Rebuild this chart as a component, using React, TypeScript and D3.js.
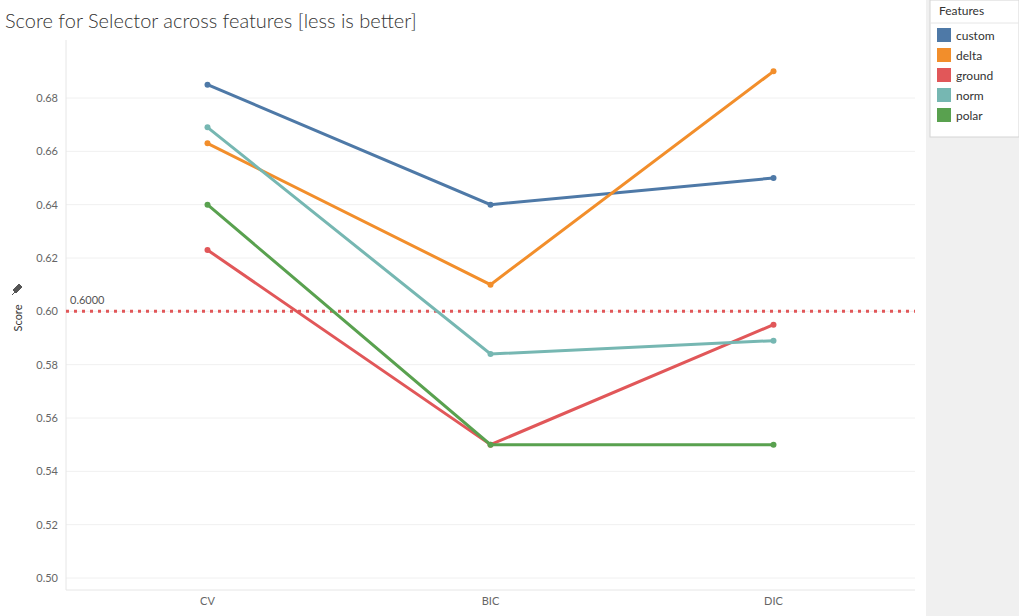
import React from "react";
import * as d3 from "d3";

const categories = ["CV", "BIC", "DIC"];
const features = ["custom", "delta", "ground", "norm", "polar"];
const colors = ["#4e79a7", "#f28e2b", "#e15759", "#76b7b2", "#59a14f"];
const custom = [0.685, 0.64, 0.65];
const delta = [0.663, 0.61, 0.69];
const ground = [0.623, 0.55, 0.595];
const norm = [0.669, 0.584, 0.589];
const polar = [0.64, 0.55, 0.55];
const series = [custom, delta, ground, norm, polar];
const yTicks = [0.5, 0.52, 0.54, 0.56, 0.58, 0.6, 0.62, 0.64, 0.66, 0.68];
const refValue = 0.6;

export default function App() {
  const W = 1019, H = 616;
  const x = d3.scaleBand().domain(categories).range([66, 915]);
  const y = d3.scaleLinear().domain([0.5, 0.68]).range([578, 98]);
  const line = d3.line<number>().x((_, i) => x(categories[i])! + x.bandwidth() / 2).y(d => y(d));
  const font = "Lato, 'Open Sans', sans-serif";
  return (
    <svg width={W} height={H} style={{ position: "absolute", left: 0, top: 0, fontFamily: font }}>
      <rect width={W} height={H} fill="#fff" />
      <text x={5} y={28} fontSize={20} fill="#333" fontWeight={300}>Score for Selector across features [less is better]</text>
      <rect x={926} y={0} width={93} height={616} fill="#f0f0f0" />
      <rect x={930} y={0} width={89} height={137} fill="#fff" stroke="#d4d4d4" />
      <text x={939} y={15} fontSize={12} fill="#333">Features</text>
      <line x1={930} x2={1019} y1={23} y2={23} stroke="#e6e6e6" />
      {features.map((f, i) => (
        <g key={f}>
          <rect x={937} y={28 + i * 20} width={14} height={14} fill={colors[i]} />
          <text x={956} y={40 + i * 20} fontSize={12} fill="#333">{f}</text>
        </g>
      ))}
      {yTicks.map(t => (
        <g key={t}>
          <line x1={66} x2={915} y1={y(t)} y2={y(t)} stroke="#f0f0f0" />
          <text x={58} y={y(t) + 4} fontSize={11} fill="#666" textAnchor="end">{t.toFixed(2)}</text>
        </g>
      ))}
      <line x1={66} x2={66} y1={40} y2={590} stroke="#e6e6e6" />
      <line x1={66} x2={915} y1={590} y2={590} stroke="#e6e6e6" />
      {categories.map(c => (
        <text key={c} x={x(c)! + x.bandwidth() / 2} y={605} fontSize={11} fill="#666" textAnchor="middle">{c}</text>
      ))}
      <text transform={`translate(22,${318}) rotate(-90)`} fontSize={11} fill="#333" textAnchor="middle">Score</text>
      <path d="M13,290 l6,-6 l3,3 l-6,6 z M15,292 l-3,3" fill="#555" stroke="#555" />
      <line x1={66} x2={915} y1={y(refValue)} y2={y(refValue)} stroke="#e15759" strokeWidth={3} strokeDasharray="3,5" />
      <text x={70} y={y(refValue) - 7} fontSize={11} fill="#555">0.6000</text>
      {series.map((s, i) => (
        <g key={i}>
          <path d={line(s)!} fill="none" stroke={colors[i]} strokeWidth={3} />
          {s.map((v, j) => (
            <circle key={j} cx={x(categories[j])! + x.bandwidth() / 2} cy={y(v)} r={3} fill={colors[i]} />
          ))}
        </g>
      ))}
    </svg>
  );
}
